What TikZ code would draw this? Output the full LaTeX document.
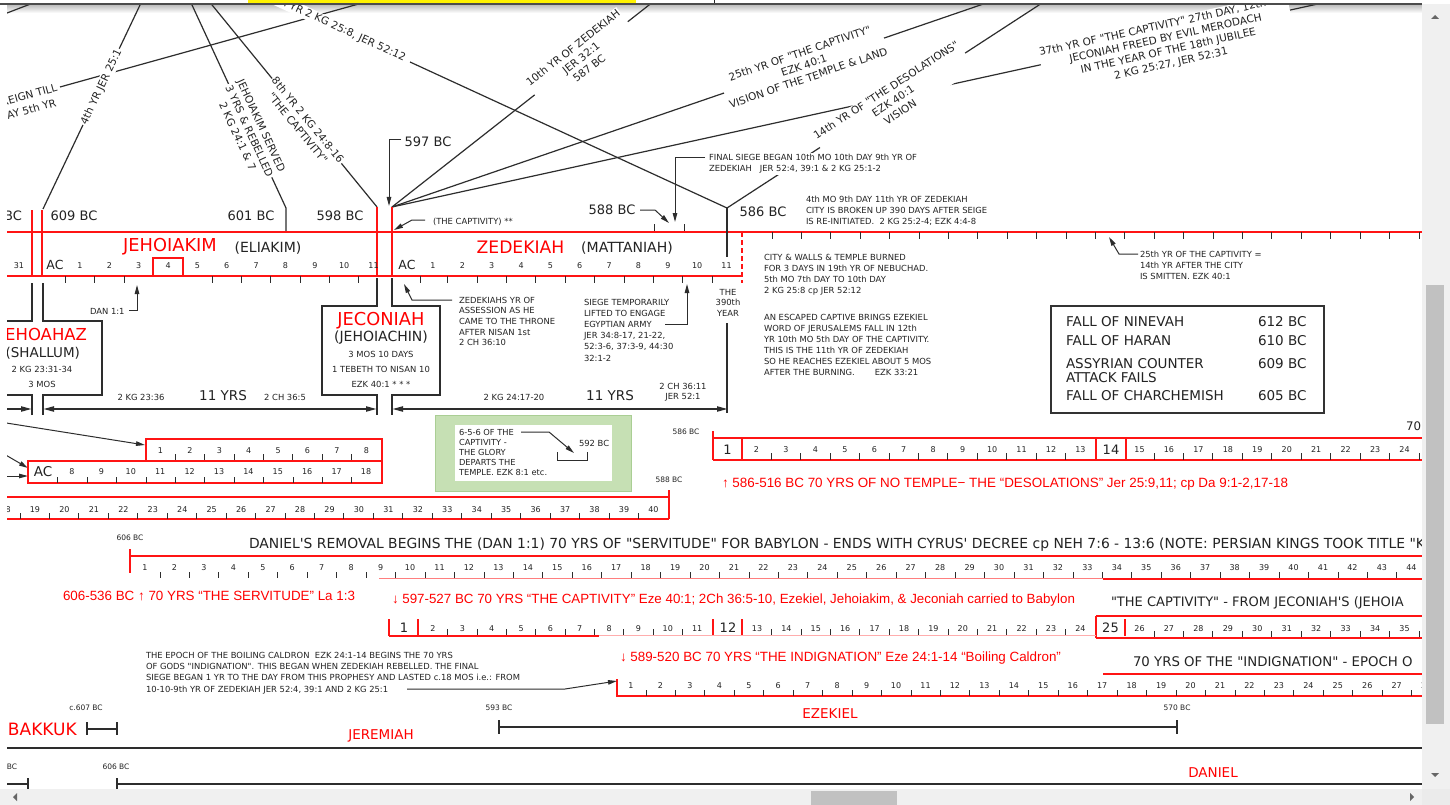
\documentclass[tikz,border=0pt]{standalone}
\usepackage{fontspec}
\setmainfont{DejaVu Sans}
\newfontfamily\dvs{DejaVu Sans}
\newfontfamily\arialf{Liberation Sans}
\usetikzlibrary{arrows.meta}
\definecolor{lnk}{RGB}{45,45,45}
\definecolor{txt}{RGB}{35,35,35}
\definecolor{rcol}{RGB}{255,20,20}
\definecolor{gfill}{RGB}{198,224,180}
\definecolor{gedge}{RGB}{170,206,148}
\definecolor{sbar}{RGB}{240,240,240}
\definecolor{sthumb}{RGB}{193,193,193}
\newcommand\fitto[2]{\setbox0=\hbox{\fontsize{10}{12}\selectfont #2}\pgfmathsetmacro\fitfs{10*#1/\the\wd0}\fontsize{\fitfs}{\fitfs}\selectfont #2}
\begin{document}
\dvs
\begin{tikzpicture}[x=1pt,y=-1pt,
 every node/.style={inner sep=0pt,outer sep=0pt,text=txt},
 sm/.style={font=\fontsize{8.4}{11}\selectfont,align=left,anchor=west},
 smc/.style={font=\fontsize{8.4}{11}\selectfont,align=center},
 tiny/.style={font=\fontsize{7.5}{9}\selectfont},
 dig/.style={font=\fontsize{8}{9}\selectfont},
 bigd/.style={font=\fontsize{13}{14}\selectfont},
 bcl/.style={font=\fontsize{13}{15}\selectfont},
 fan/.style={font=\fontsize{10.5}{13}\selectfont,align=center,fill=white,inner sep=1.2pt},
 paren/.style={font=\fontsize{14}{16}\selectfont},
 redbig/.style={text=red},
 rtxt/.style={font=\arialf,text=red,anchor=west},
 hd/.style={font=\fontsize{13.3}{15}\selectfont,anchor=west},
 fall/.style={font=\fontsize{13.5}{15}\selectfont,anchor=west},
 ln/.style={draw=lnk,line width=1.2pt},
 redl/.style={draw=rcol,line width=1.3pt},
 tk/.style={draw=lnk,line width=1pt},
 arr/.style={draw=lnk,line width=1pt,-{Triangle[length=9pt,width=4.5pt]}},
 yrs/.style={draw=lnk,line width=2pt},
 yhd/.style={-{Triangle[length=11pt,width=5pt]}},
 yhb/.style={{Triangle[length=11pt,width=5pt]}-{Triangle[length=11pt,width=5pt]}},
]
\useasboundingbox (0,0) rectangle (1450,805);
\fill[white] (0,0) rectangle (1450,805);
\begin{scope}
\clip (7,5) rectangle (1422,788);
\shade[top color=black!25,bottom color=white] (0,5) rectangle (1422,13);
% ---------- fan of connectors ----------
\coordinate (p609) at (43,209);
\coordinate (p601) at (286,208);
\coordinate (p598) at (377,207);
\coordinate (p597) at (392,207);
\coordinate (p586) at (727,208);
\draw[ln] (p609) -- (142.4,0);
\draw[ln] (189.7,0) -- (p601) -- (286,232);
\draw[ln] (208,0) -- (p598);
\draw[ln] (410,62) -- (p586);
\draw[ln] (p597) -- (655.4,0);
\draw[ln] (p597) -- (995,0);
\draw[ln] (p597) -- (1336,0);
\draw[ln] (p586) -- (1046.7,0);
\draw[ln] (60,87) -- (373,0);
\draw[ln] (-5,17.6) -- (41,0);
\node[fan,rotate=64.6] (l4th) at (101.5,87) {4th YR JER 25:1};
\node[fan,rotate=-65.2] (ljserv) at (249.5,131) {JEHOIAKIM SERVED\\3 YRS \& REBELLED\\2 KG 24:1 \& 7};
\node[fan,rotate=-50.8] (l8th) at (303,124) {8th YR 2 KG 24:8-16\\"THE CAPTIVITY"};
\node[fan,rotate=-24.7,anchor=east] (l19th) at (406,59) {th YR 2 KG 25:8, JER 52:12};
\node[fan,rotate=38.2] (l10th) at (581,58) {10th YR OF ZEDEKIAH\\JER 32:1\\587 BC};
\node[fan,rotate=18.9] (l25th) at (804,65.5) {25th YR OF "THE CAPTIVITY"\\EZK 40:1\\VISION OF THE TEMPLE \& LAND};
\node[fan,rotate=33] (l14th) at (893,101) {14th YR OF "THE DESOLATIONS"\\EZK 40:1\\VISION};
\node[fan,rotate=12.4] (l37th) at (1167,45) {37th YR OF "THE CAPTIVITY" 27th DAY, 12th MO\\JECONIAH FREED BY EVIL MERODACH\\IN THE YEAR OF THE 18th JUBILEE\\2 KG 25:27, JER 52:31};
\node[fan,fill=none,rotate=15.5,anchor=east] (leign1) at (58,87) {REIGN TILL};
\node[fan,fill=none,rotate=15.5,anchor=east] (leign2) at (57,102) {DAY 5th YR};
% ---------- BC labels and small arrows ----------
\node[bcl] (t609) at (74,216) {609 BC};
\node[bcl,anchor=east] (t610) at (22,216) {BC};
\node[bcl] (t601) at (251,216) {601 BC};
\node[bcl] (t598) at (340,216) {598 BC};
\node[bcl] (t597) at (428,142) {597 BC};
\node[bcl] (t588) at (612,210) {588 BC};
\node[bcl] (t586) at (763,212) {586 BC};
\draw[arr] (401,140) -- (389,140) -- (389,206);
\node[sm] (tcapt) at (433,222) {(THE CAPTIVITY) **};
\draw[arr] (425,220) -- (412,220) -- (394,230);
\node[sm,fill=white,inner sep=1pt] (tfinal) at (708,164) {FINAL SIEGE BEGAN 10th MO 10th DAY 9th YR OF\\ZEDEKIAH\ \ \ JER 52:4, 39:1 \& 2 KG 25:1-2};
\draw[arr] (705,158) -- (675,158) -- (675,222);
\draw[arr] (640,210) -- (655,210) -- (669,223);
\draw[tk] (654,224) -- (654,232);
\draw[tk] (684,224) -- (684,232);
\node[sm] (t4mo) at (806,211) {4th MO 9th DAY 11th YR OF ZEDEKIAH\\CITY IS BROKEN UP 390 DAYS AFTER SEIGE\\IS RE-INITIATED.\ \ 2 KG 25:2-4; EZK 4:4-8};
% ---------- main timeline ----------
\draw[redl] (7,232) -- (1422,232);
\foreach \i in {0,...,22} \draw[tk] ({772+\i*29.41},232) -- ++(0,7);
\draw[redl,dash pattern=on 5pt off 3pt] (742,232) -- (742,283);
\draw[redl] (32,210) -- (32,276);
\draw[redl] (42,210) -- (42,276);
\draw[redl] (377,207) -- (377,276);
\draw[redl] (392,207) -- (392,276);
\draw[redl] (7,276) -- (742,276);
\draw[redl] (153,276) -- (153,258) -- (183,258) -- (183,276);
\foreach \x in {65,94.7,124,212,241.4,270.8,300.1,329.5,358.9,420,447.7,477,506.4,535.8,565,594.5,624,653.3,682.6,712}
  \draw[tk] (\x,276) -- ++(0,7);
\draw[ln] (p586) -- (727,257);
\draw[ln] (727,323) -- (727,413);
\node[redbig,font=\fontsize{17.8}{20}\selectfont] (kjk) at (170,247) {JEHOIAKIM};
\node[paren] (kel) at (268,248) {(ELIAKIM)};
\node[redbig,font=\fontsize{17.2}{20}\selectfont] (kzd) at (520.5,247) {ZEDEKIAH};
\node[paren] (kmt) at (627,248) {(MATTANIAH)};
\node[dig] (n31) at (19,266) {31};
\node[font=\fontsize{12.5}{14}\selectfont] (nac1) at (55,265) {AC};
\foreach \n in {1,...,11} \node[dig] (na\n) at ({80+(\n-1)*29.35},266) {\n};
\node[font=\fontsize{12.5}{14}\selectfont] (nac2) at (407,265) {AC};
\foreach \n in {1,...,11} \node[dig] (nb\n) at ({433+(\n-1)*29.35},266) {\n};
% ---------- annotations right ----------
\node[sm] (tcity) at (764,274.5) {CITY \& WALLS \& TEMPLE BURNED\\FOR 3 DAYS IN 19th YR OF NEBUCHAD.\\5th MO 7th DAY TO 10th DAY\\2 KG 25:8 cp JER 52:12};
\node[sm] (tesc) at (764,345) {AN ESCAPED CAPTIVE BRINGS EZEKIEL\\WORD OF JERUSALEMS FALL IN 12th\\YR 10th MO 5th DAY OF THE CAPTIVITY.\\THIS IS THE 11th YR OF ZEDEKIAH\\SO HE REACHES EZEKIEL ABOUT 5 MOS\\AFTER THE BURNING.\hspace{20pt}EZK 33:21};
\node[sm] (t25) at (1140,265) {25th YR OF THE CAPTIVITY =\\14th YR AFTER THE CITY\\IS SMITTEN. EZK 40:1};
\draw[arr] (1138,254) -- (1119,254) -- (1109,237);
\node[smc,font=\fontsize{8.4}{10.5}\selectfont] (t390) at (728,302.5) {THE\\390th\\YEAR};
\node[sm,font=\fontsize{8.4}{10.7}\selectfont] (tzedyr) at (459,321.5) {ZEDEKIAHS YR OF\\ASSESSION AS HE\\CAME TO THE THRONE\\AFTER NISAN 1st\\2 CH 36:10};
\draw[arr] (452,300) -- (412,300) -- (404,284);
\node[sm,font=\fontsize{8.4}{11.2}\selectfont] (tsiege) at (584,330) {SIEGE TEMPORARILY\\LIFTED TO ENGAGE\\EGYPTIAN ARMY\\JER 34:8-17, 21-22,\\52:3-6, 37:3-9, 44:30\\32:1-2};
\draw[arr] (665,324) -- (687,324) -- (687,284);
\node[sm] (tdan) at (90,311) {DAN 1:1};
\draw[arr] (129,310) -- (137,310) -- (137,285);
% ---------- Jehoahaz / Jeconiah boxes ----------
\draw[ln] (7,321) -- (32,321) -- (32,283);
\draw[ln] (43,283) -- (43,321) -- (102,321) -- (102,395) -- (43,395) -- (43,415);
\draw[ln] (32,415) -- (32,395) -- (7,395);
\draw[ln] (377,278) -- (377,306) -- (322,306) -- (322,395) -- (377,395) -- (377,415);
\draw[ln] (392,278) -- (392,306) -- (440,306) -- (440,395) -- (392,395) -- (392,415);
\node[redbig,font=\fontsize{16.5}{18}\selectfont,anchor=east] (kjh) at (87,336) {JEHOAHAZ};
\node[font=\fontsize{13.5}{15}\selectfont,anchor=east] (ksh) at (80,353) {(SHALLUM)};
\node[smc] (tjh1) at (42,369) {2 KG 23:31-34};
\node[smc] (tjh2) at (42,384) {3 MOS};
\node[redbig,font=\fontsize{17.8}{20}\selectfont] (kjc) at (381,321) {JECONIAH};
\node[paren] (kjn) at (381,338) {(JEHOIACHIN)};
\node[smc] (tjc1) at (381,354) {3 MOS 10 DAYS};
\node[smc] (tjc2) at (381,369) {1 TEBETH TO NISAN 10};
\node[smc] (tjc3) at (381,384) {EZK 40:1 * * *};
% ---------- 11 YRS ----------
\draw[yrs,yhd] (7,409) -- (32,409);
\draw[yrs,yhb] (43,409) -- (377,409);
\draw[yrs,yhb] (392,409) -- (728,409);
\node[smc] (y1a) at (141,397) {2 KG 23:36};
\node[font=\fontsize{13.5}{15}\selectfont] (y1) at (223,396) {11 YRS};
\node[smc] (y1b) at (285,397) {2 CH 36:5};
\node[smc] (y2a) at (514,397) {2 KG 24:17-20};
\node[font=\fontsize{13.5}{15}\selectfont] (y2) at (610,396) {11 YRS};
\node[smc,font=\fontsize{8.4}{10}\selectfont] (y2b) at (683,392) {2 CH 36:11\\JER 52:1};
% ---------- Fall box ----------
\draw[draw=black!80,line width=1.5pt] (1051,306) rectangle (1324,413);
\node[fall] (f1) at (1066,322) {FALL OF NINEVAH};
\node[fall] (f1d) at (1258,322) {612 BC};
\node[fall] (f2) at (1066,341) {FALL OF HARAN};
\node[fall] (f2d) at (1258,341) {610 BC};
\node[fall] (f3) at (1066,364) {ASSYRIAN COUNTER};
\node[fall] (f3b) at (1066,378) {ATTACK FAILS};
\node[fall] (f3d) at (1258,364) {609 BC};
\node[fall] (f4) at (1066,396) {FALL OF CHARCHEMISH};
\node[fall] (f4d) at (1258,396) {605 BC};
% ---------- rows A B C ----------
\draw[arr] (0,422) -- (145,445);
\draw[arr] (4,454) -- (28,468);
\draw[arr] (4,476) -- (28,476);
\draw[redl] (146,439) rectangle (382,461);
\foreach \n in {1,...,8} \node[dig] (ra\n) at ({160.5+(\n-1)*29.4},451) {\n};
\foreach \k in {0,...,6} \draw[tk] ({175.2+\k*29.4},454) -- ++(0,7);
\draw[redl] (28,461) rectangle (382,483);
\node[font=\fontsize{13.5}{15}\selectfont] (rbac) at (43,472) {AC};
\foreach \n in {8,...,18} \node[dig] (rb\n) at ({72+(\n-8)*29.4},472) {\n};
\foreach \k in {0,...,10} \draw[tk] ({57.8+\k*29.4},477) -- ++(0,6);
\draw[redl] (7,497) -- (669,497);
\draw[redl] (7,519) -- (669,519);
\draw[redl] (669,490) -- (669,519);
\foreach \n in {18,...,40} \node[dig] (rc\n) at ({35+(\n-19)*29.45},510) {\n};
\foreach \k in {0,...,21} \draw[tk] ({20+\k*29.45},513) -- ++(0,6);
\node[tiny] (t588s) at (669,480) {588 BC};
% ---------- green box ----------
\draw[draw=gedge,fill=gfill,line width=1pt] (435,415) rectangle (631,491);
\fill[white] (455,425) rectangle (612,481);
\node[sm,font=\fontsize{8.3}{10}\selectfont] (tgl) at (459,452) {6-5-6 OF THE\\CAPTIVITY -\\THE GLORY\\DEPARTS THE\\TEMPLE. EZK 8:1 etc.};
\node[sm] (t592) at (579,443) {592 BC};
\draw[arr] (521,432) -- (549,432) -- (574,453);
\draw[tk] (557,452) -- (557,460) -- (587,460) -- (587,452);
% ---------- row D ----------
\node[tiny] (t586s) at (686,432) {586 BC};
\draw[redl] (713,431) -- (713,460);
\draw[redl] (713,438) -- (1422,438);
\draw[redl] (713,460) -- (1422,460);
\foreach \x in {742,1096,1126} \draw[redl] (\x,438) -- (\x,460);
\node[bigd] (rd1) at (727.5,450) {1};
\foreach \n in {2,...,13} \node[dig] (rd\n) at ({756.5+(\n-2)*29.45},450) {\n};
\node[bigd] (rd14) at (1111,450) {14};
\foreach \n in {15,...,25} \node[dig] (rd\n) at ({1139.5+(\n-15)*29.45},450) {\n};
\foreach \k in {0,...,10} \draw[tk] ({771.2+\k*29.45},453) -- ++(0,7);
\foreach \k in {0,...,9} \draw[tk] ({1154+\k*29.45},453) -- ++(0,7);
\node[font=\fontsize{11.8}{13}\selectfont,anchor=east] (t70) at (1421,426) {70};
\node[rtxt] (r1) at (722,484) {\fitto{566}{↑ 586-516 BC 70 YRS OF NO TEMPLE− THE “DESOLATIONS” Jer 25:9,11; cp Da 9:1-2,17-18}};
% ---------- row E ----------
\node[tiny] (t606) at (130,538) {606 BC};
\node[anchor=west] (tdanl) at (249,545) {\fitto{1176}{DANIEL'S REMOVAL BEGINS THE (DAN 1:1) 70 YRS OF "SERVITUDE" FOR BABYLON - ENDS WITH CYRUS' DECREE cp NEH 7:6 - 13:6 (NOTE: PERSIAN KINGS TOOK TITLE "K}};
\draw[redl] (130,549) -- (130,573);
\draw[redl] (130,556) -- (1422,556);
\draw[draw=rcol!55,line width=0.8pt] (379,578) -- (1103,578);
\draw[redl] (1103,579) -- (1422,579);
\foreach \n in {1,...,45} \node[dig] (re\n) at ({145+(\n-1)*29.45},568) {\n};
\foreach \k in {0,...,43} \draw[tk,line width=0.9pt] ({160+\k*29.45},572) -- ++(0,6);
\node[rtxt] (r2) at (63,596) {\fitto{292}{606-536 BC ↑ 70 YRS “THE SERVITUDE” La 1:3}};
\node[rtxt] (r3) at (392,600) {\fitto{683}{↓ 597-527 BC 70 YRS “THE CAPTIVITY” Eze 40:1; 2Ch 36:5-10, Ezekiel, Jehoiakim, \& Jeconiah carried to Babylon}};
\node[hd,font=\fontsize{13}{15}\selectfont] (tcapf) at (1111,603) {"THE CAPTIVITY" - FROM JECONIAH'S (JEHOIA};
% ---------- row F ----------
\foreach \x in {389,418,713,742,1125} \draw[redl] (\x,619) -- (\x,636);
\draw[redl] (1096,616) -- (1096,638);
\draw[redl] (389,636) -- (599,636);
\draw[draw=rcol!35,line width=0.8pt] (599,635) -- (1096,635);
\draw[redl] (1096,616) -- (1422,616);
\draw[redl] (1096,638) -- (1422,638);
\node[bigd] (rf1) at (404,628) {1};
\foreach \n in {2,...,11} \node[dig] (rf\n) at ({433+(\n-2)*29.35},629) {\n};
\node[bigd] (rf12) at (728,628) {12};
\foreach \n in {13,...,24} \node[dig] (rf\n) at ({757+(\n-13)*29.4},629) {\n};
\node[bigd] (rf25) at (1110.5,628) {25};
\foreach \n in {26,...,36} \node[dig] (rf\n) at ({1139.5+(\n-26)*29.45},629) {\n};
\foreach \k in {0,...,8} \draw[tk] ({447.7+\k*29.35},629) -- ++(0,6);
\foreach \k in {0,...,10} \draw[tk] ({771.7+\k*29.4},629) -- ++(0,6);
\foreach \k in {0,...,9} \draw[tk] ({1154+\k*29.45},631) -- ++(0,6);
% ---------- row G ----------
\node[rtxt] (r4) at (620,658) {\fitto{441}{↓ 589-520 BC 70 YRS “THE INDIGNATION” Eze 24:1-14 “Boiling Caldron”}};
\node[hd] (tind) at (1133,662) {70 YRS OF THE "INDIGNATION" - EPOCH O};
\draw[redl] (1103,674) -- (1422,674);
\draw[redl] (617,679) -- (617,696) -- (1422,696);
\foreach \n in {1,...,28} \node[dig] (rg\n) at ({631+(\n-1)*29.45},686) {\n};
\foreach \k in {0,...,26} \draw[tk] ({646+\k*29.45},690) -- ++(0,6);
\node[sm,font=\fontsize{8.4}{11.3}\selectfont] (tepoch) at (146,673) {THE EPOCH OF THE BOILING CALDRON\ \ EZK 24:1-14 BEGINS THE 70 YRS\\OF GODS "INDIGNATION". THIS BEGAN WHEN ZEDEKIAH REBELLED. THE FINAL\\SIEGE BEGAN 1 YR TO THE DAY FROM THIS PROPHESY AND LASTED c.18 MOS i.e.: FROM\\10-10-9th YR OF ZEDEKIAH JER 52:4, 39:1 AND 2 KG 25:1};
\draw[arr] (407,689) -- (565,689) -- (617,681);
% ---------- prophets ----------
\node[tiny] (t607) at (86,708) {c.607 BC};
\node[redbig,font=\fontsize{17}{19}\selectfont,anchor=west] (khab) at (8,729) {BAKKUK};
\draw[ln] (87,722) -- (87,735);
\draw[ln] (87,729) -- (117,729);
\draw[ln] (117,722) -- (117,735);
\node[tiny] (t593) at (499,708) {593 BC};
\node[tiny] (t570) at (1177,708) {570 BC};
\draw[ln] (499,720) -- (499,734);
\draw[ln] (499,727) -- (1177,727);
\draw[ln] (1177,720) -- (1177,734);
\node[redbig,font=\fontsize{13.5}{15}\selectfont] (kez) at (830,714) {EZEKIEL};
\node[redbig,font=\fontsize{13.5}{15}\selectfont] (kjr) at (381,736) {JEREMIAH};
\draw[ln] (7,748) -- (1422,748);
\node[tiny] (t606b) at (116,767) {606 BC};
\node[tiny,anchor=east] (tbcb) at (17,767) {BC};
\draw[ln] (7,784) -- (28,784);
\draw[ln] (28,778) -- (28,790);
\draw[ln] (117,778) -- (117,790);
\draw[ln] (117,784) -- (1422,784);
\node[redbig,font=\fontsize{13.5}{15}\selectfont] (kdn) at (1213,773) {DANIEL};
\end{scope}
% ---------- browser chrome ----------
\fill[yellow] (248,0) rectangle (636,3.2);
\draw[black!85,line width=1pt] (714,0) -- (714,4);
\draw[black!70,line width=1.6pt] (0,4.2) -- (1422,4.2);
\fill[sbar] (1422,4) rectangle (1450,789);
\fill[sthumb] (1426,285) rectangle (1444,724);
\fill[black!60] (1431,19) -- (1439,19) -- (1435,15) -- cycle;
\fill[black!60] (1431,773) -- (1439,773) -- (1435,777) -- cycle;
\fill[sbar] (0,789) rectangle (1422,805);
\fill[black!8] (1422,789) rectangle (1450,805);
\fill[sthumb] (811,791) rectangle (897,805);
\fill[black!60] (13,797) -- (17,793) -- (17,801) -- cycle;
\fill[black!60] (1414,797) -- (1410,793) -- (1410,801) -- cycle;
\end{tikzpicture}
\end{document}
